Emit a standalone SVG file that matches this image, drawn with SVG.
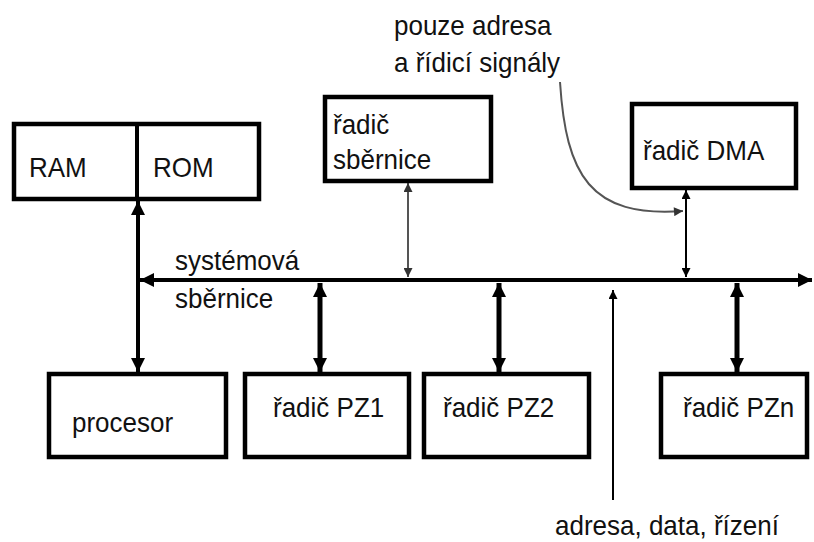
<svg xmlns="http://www.w3.org/2000/svg" width="814" height="542" viewBox="0 0 814 542">
  <defs>
    <style>
      .box { fill: #fff; stroke: #000; stroke-width: 4.5; }
      .lbl { font-family: "Liberation Sans", Arial, sans-serif; font-size: 26px; fill: #111; }
      .bus { stroke: #000; stroke-width: 4; fill: none; }
      .thick { stroke: #000; stroke-width: 5; fill: none; }
      .thin { stroke: #000; stroke-width: 2; fill: none; }
      .grey { stroke: #555; stroke-width: 2; fill: none; }
    </style>
    <marker id="headBig" viewBox="0 0 10 10" refX="10" refY="5" markerUnits="userSpaceOnUse" markerWidth="14" markerHeight="14" orient="auto-start-reverse">
      <path d="M0,0 L10,5 L0,10 Z" fill="#000"/>
    </marker>
    <marker id="headSmall" viewBox="0 0 10 10" refX="10" refY="5" markerUnits="userSpaceOnUse" markerWidth="10" markerHeight="9" orient="auto-start-reverse">
      <path d="M0,0 L10,5 L0,10 Z" fill="#000"/>
    </marker>
    <marker id="headGrey" viewBox="0 0 10 10" refX="10" refY="5" markerUnits="userSpaceOnUse" markerWidth="10" markerHeight="9" orient="auto-start-reverse">
      <path d="M0,0 L10,5 L0,10 Z" fill="#333"/>
    </marker>
  </defs>

  <!-- connectors -->
  <g id="connectors">
    <!-- system bus -->
    <line class="bus" x1="140" y1="280" x2="812" y2="280" marker-start="url(#headBig)" marker-end="url(#headBig)"/>
    <!-- memory <-> processor -->
    <line class="bus" x1="138" y1="201" x2="138" y2="372" marker-start="url(#headBig)" marker-end="url(#headBig)"/>
    <!-- bus controller -->
    <line class="grey" x1="408" y1="183" x2="408" y2="277" marker-start="url(#headGrey)" marker-end="url(#headGrey)"/>
    <!-- DMA controller -->
    <line class="thin" x1="686" y1="190" x2="686" y2="277" marker-start="url(#headSmall)" marker-end="url(#headSmall)"/>
    <!-- peripheral controllers -->
    <line class="thick" x1="320" y1="283" x2="320" y2="372" marker-start="url(#headBig)" marker-end="url(#headBig)"/>
    <line class="thick" x1="499" y1="283" x2="499" y2="372" marker-start="url(#headBig)" marker-end="url(#headBig)"/>
    <line class="thick" x1="737" y1="283" x2="737" y2="372" marker-start="url(#headBig)" marker-end="url(#headBig)"/>
    <!-- bus content pointer -->
    <line class="thin" x1="613" y1="500" x2="613" y2="290" marker-end="url(#headSmall)"/>
    <!-- DMA annotation pointer -->
    <path class="grey" d="M560,82 C566,175 590,218 683,211" marker-end="url(#headGrey)"/>
  </g>

  <g id="memory">
    <rect class="box" x="14" y="124" width="245" height="75"/>
    <line x1="137" y1="124" x2="137" y2="199" stroke="#000" stroke-width="4"/>
    <text class="lbl" transform="translate(29 177) scale(1 1.08)">RAM</text>
    <text class="lbl" transform="translate(153 177) scale(1 1.08)">ROM</text>
  </g>

  <g id="bus-controller">
    <rect class="box" x="325" y="97" width="166" height="84"/>
    <text class="lbl" transform="translate(333 134) scale(1 1.08)">řadič</text>
    <text class="lbl" transform="translate(333 169) scale(1 1.08)">sběrnice</text>
  </g>

  <g id="dma-controller">
    <rect class="box" x="632" y="104" width="164" height="84"/>
    <text class="lbl" transform="translate(643 160) scale(1 1.08)">řadič DMA</text>
  </g>

  <g id="processor">
    <rect class="box" x="49" y="374" width="177" height="83"/>
    <text class="lbl" transform="translate(72 432) scale(1 1.08)">procesor</text>
  </g>

  <g id="pz1">
    <rect class="box" x="245" y="374" width="164" height="83"/>
    <text class="lbl" transform="translate(273 417) scale(1 1.08)">řadič PZ1</text>
  </g>

  <g id="pz2">
    <rect class="box" x="424" y="374" width="165" height="83"/>
    <text class="lbl" transform="translate(443 417) scale(1 1.08)">řadič PZ2</text>
  </g>

  <g id="pzn">
    <rect class="box" x="661" y="374" width="146" height="83"/>
    <text class="lbl" transform="translate(683 417) scale(1 1.08)">řadič PZn</text>
  </g>

  <g id="labels">
    <text class="lbl" transform="translate(394 35) scale(1 1.08)">pouze adresa</text>
    <text class="lbl" transform="translate(394 72) scale(1 1.08)">a řídicí signály</text>
    <text class="lbl" transform="translate(175 270) scale(1 1.08)">systémová</text>
    <text class="lbl" transform="translate(175 308) scale(1 1.08)">sběrnice</text>
    <text class="lbl" transform="translate(555 535) scale(1 1.08)">adresa, data, řízení</text>
  </g>
</svg>
